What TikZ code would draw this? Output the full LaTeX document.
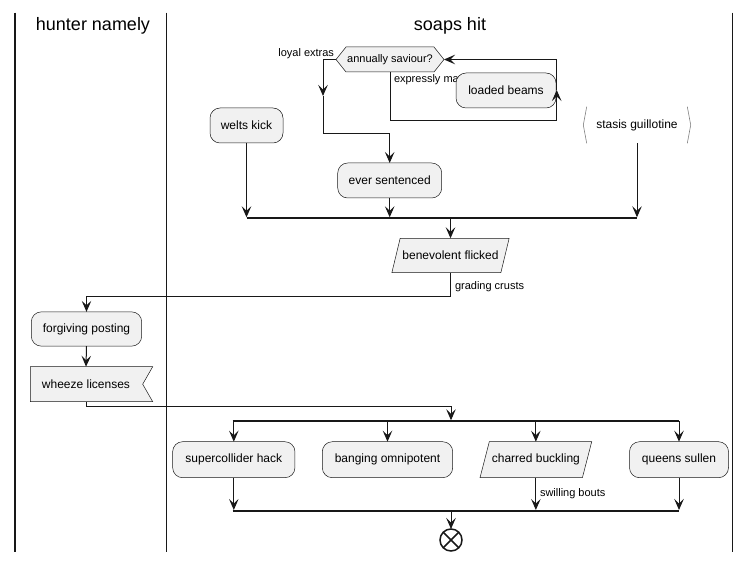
\documentclass[tikz,border=0pt]{standalone}
\usepackage{fontspec}
\setmainfont{Liberation Sans}
\usetikzlibrary{arrows.meta,backgrounds,calc}
\definecolor{ln}{HTML}{181818}
\definecolor{nf}{HTML}{F1F1F1}
\begin{document}
\begin{tikzpicture}[x=1pt,y=-1pt,
  every node/.style={inner sep=0pt, outer sep=0pt},
  act/.style={draw=ln, fill=nf, line width=0.5pt, rounded corners=10pt, font=\fontsize{12}{14}\selectfont, minimum height=35pt},
  txt/.style={font=\fontsize{12}{14}\selectfont},
  lbl/.style={font=\fontsize{11}{13}\selectfont},
  hdr/.style={font=\fontsize{18}{21}\selectfont},
  shp/.style={draw=ln, fill=nf, line width=0.5pt},
  con/.style={draw=ln, line width=1pt},
  arr/.style={con, -{Stealth[length=11pt,width=9.5pt,inset=4.5pt]}},
  tobar/.style={arr, shorten >=1pt},
  barline/.style={draw=ln, line width=2pt},
  lane/.style={draw=ln, line width=1.5pt},
]
\useasboundingbox (0,0) rectangle (751,561);

% swimlanes
\draw[lane] (15,12.7) -- (15,552);
\draw[lane] (166.7,12.7) -- (166.7,552);
\draw[lane] (732.7,12.7) -- (732.7,552);
\node[hdr] (h1) at (93,26) {hunter namely};
\node[hdr] (h2) at (450,26) {soaps hit};

% decision
\node[lbl, minimum width=108pt, minimum height=25pt] (dec) at (390,59.5) {annually saviour?};
\begin{scope}[on background layer]
\filldraw[shp] (dec.west) -- ($(dec.north west)+(10,0)$) -- ($(dec.north east)+(-10,0)$) -- (dec.east) -- ($(dec.south east)+(-10,0)$) -- ($(dec.south west)+(10,0)$) -- cycle;
\end{scope}
\node[lbl, anchor=east] (le) at (334,54) {loyal extras};
\node[lbl, anchor=west] (em) at (394,79.3) {expressly ma};

% activities top
\node[act, minimum width=73pt] (welts) at (246.5,125.5) {welts kick};
\node[act, minimum width=104pt] (ever) at (389.7,180.5) {ever sentenced};
\node[act, minimum width=100pt] (beams) at (506,90.5) {loaded beams};
\node[txt, minimum width=107.4pt, minimum height=36.6pt] (sta) at (637,125) {stasis guillotine};
\draw[ln!55, line width=0.6pt] ($(sta.north west)+(3.4,0)$) -- (sta.west) -- ($(sta.south west)+(3.4,0)$);
\draw[ln!55, line width=0.6pt] ($(sta.north east)+(-3.4,0)$) -- (sta.east) -- ($(sta.south east)+(-3.4,0)$);

% decision branches
\coordinate (midL) at (323,96);
\coordinate (midR) at (556.7,90);
\draw[arr] (dec.west) -| (midL);
\draw[arr] (midL) -- (323,133.3) -| (ever.north);
\draw[arr] (dec.south) -- (390,121) -| (midR);
\draw[arr] (midR) |- (dec.east);

% join 1
\coordinate (b1L) at (246.5,218.3);
\coordinate (b1R) at (637,218.3);
\coordinate (b1C) at (450.5,218.3);
\draw[barline] (b1L) -- (b1R);
\draw[tobar] (welts.south) -- (welts.south |- b1L);
\draw[tobar] (ever.south) -- (ever.south |- b1L);
\draw[tobar] (sta.south) -- (sta.south |- b1L);

% benevolent flicked
\node[txt, minimum width=117.3pt, minimum height=34.4pt] (ben) at (450.5,255.5) {benevolent flicked};
\begin{scope}[on background layer]
\filldraw[shp] (ben.south west) -- ($(ben.north west)+(8.3,0)$) -- (ben.north east) -- ($(ben.south east)+(-8.3,0)$) -- cycle;
\end{scope}
\draw[arr] (b1C) -- (ben.north);

% left lane
\node[act, minimum width=110.4pt, minimum height=34.3pt] (forg) at (86.5,329) {forgiving posting};
\node[txt, minimum width=111.4pt, minimum height=35pt] (whz) at (86,384.2) {wheeze licenses};
\begin{scope}[on background layer]
\filldraw[shp] (whz.north west) -- ($(whz.north east)+(11,0)$) -- ($(whz.east)+(1,0)$) -- ($(whz.south east)+(11,0)$) -- (whz.south west) -- cycle;
\end{scope}
\coordinate (t1) at (450.5,296.3);
\draw[arr] (ben.south) -- (t1) -| (forg.north);
\node[lbl, anchor=west] (gc) at (455,287) {grading crusts};
\draw[arr] (forg.south) -- (whz.north);

% fork 2
\coordinate (b2L) at (232.7,421.3);
\coordinate (b2R) at (679.3,421.3);
\coordinate (b2C) at (451,421.3);
\coordinate (t2) at (86,406);
\draw[tobar] (whz.south) -- (t2) -| (b2C);
\draw[barline] (b2L) -- (b2R);

\node[act, minimum width=122.3pt, minimum height=36pt] (sup) at (233.8,459.7) {supercollider hack};
\node[act, minimum width=130.4pt, minimum height=36pt] (bang) at (387.5,459.7) {banging omnipotent};
\node[txt, minimum width=111.7pt, minimum height=36pt] (chb) at (535.85,459.7) {charred buckling};
\begin{scope}[on background layer]
\filldraw[shp] (chb.south west) -- ($(chb.north west)+(9.3,0)$) -- (chb.north east) -- ($(chb.south east)+(-9.3,0)$) -- cycle;
\end{scope}
\node[act, minimum width=99pt, minimum height=36pt] (que) at (679,459.7) {queens sullen};

\draw[arr] (sup.north |- b2L) -- (sup.north);
\draw[arr] (bang.north |- b2L) -- (bang.north);
\draw[arr] (chb.north |- b2L) -- (chb.north);
\draw[arr] (que.north |- b2L) -- (que.north);

% join 3
\coordinate (b3L) at (232.7,511);
\coordinate (b3R) at (679.3,511);
\coordinate (b3C) at (451,511);
\draw[barline] (b3L) -- (b3R);
\draw[tobar] (sup.south) -- (sup.south |- b3L);
\draw[tobar] (chb.south) -- (chb.south |- b3L);
\draw[tobar] (que.south) -- (que.south |- b3L);
\node[lbl, anchor=west] (sb) at (540,494) {swilling bouts};

% end
\node[draw=ln, line width=1.5pt, circle, minimum size=22pt] (end) at (451,540) {};
\draw[ln, line width=1.5pt] (end.north west) -- (end.south east);
\draw[ln, line width=1.5pt] (end.north east) -- (end.south west);
\draw[arr] (b3C) -- (end.north);
\end{tikzpicture}
\end{document}
